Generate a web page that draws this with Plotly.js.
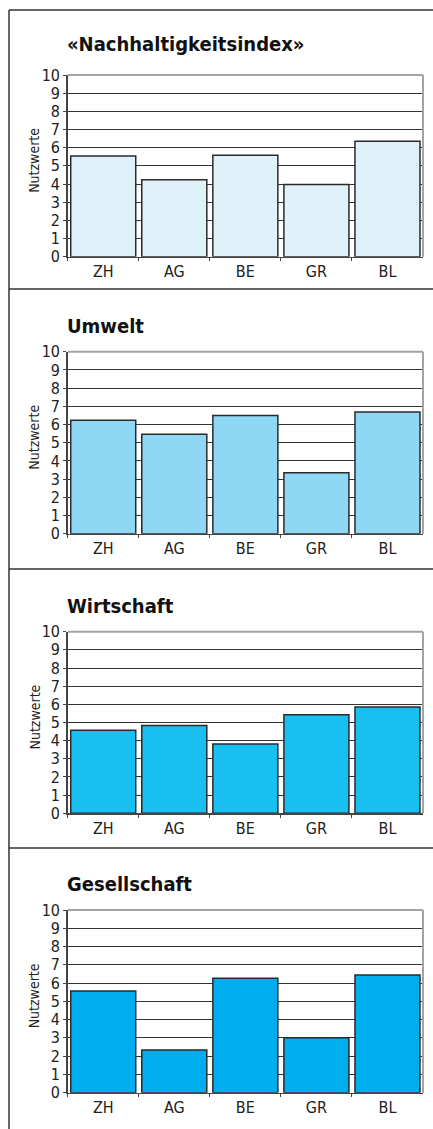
<!DOCTYPE html>
<html>
<head>
<meta charset="utf-8">
<script src="https://cdn.plot.ly/plotly-3.0.1.min.js"></script>
<style>
html,body{margin:0;padding:0;background:#fff;}
#chart{width:433px;height:1129px;}
#chart svg text{font-stretch:condensed !important;}
</style>
</head>
<body>
<div id="chart"></div>
<script>
const categories = ['ZH', 'AG', 'BE', 'GR', 'BL'];
const panelTitles = ['«Nachhaltigkeitsindex»', 'Umwelt', 'Wirtschaft', 'Gesellschaft'];
const nachhaltigkeit = [5.54, 4.24, 5.59, 3.98, 6.35];
const umwelt = [6.23, 5.46, 6.5, 3.35, 6.68];
const wirtschaft = [4.57, 4.84, 3.82, 5.43, 5.85];
const gesellschaft = [5.57, 2.34, 6.26, 3.01, 6.44];
const yTickVals = [0, 1, 2, 3, 4, 5, 6, 7, 8, 9, 10];
const yTitle = 'Nutzwerte';

const series = [nachhaltigkeit, umwelt, wirtschaft, gesellschaft];
const colors = ['#dff2fa', '#8ed7f5', '#17c0f0', '#00adee'];

const W = 433, H = 1129;
const FONT = '"DejaVu Sans Condensed", "DejaVu Sans", sans-serif';
// pixel geometry of each panel
const panelTop = [10, 289, 569, 848];
const plotTop = [75, 351.7, 631.7, 910];
const plotBot = [256.7, 533.7, 813.3, 1092.7];
const titleY = [44, 326, 606, 884];
const plotL = 67.7, plotR = 423;

const px = x => x / W;
const py = y => 1 - y / H;

const data = [];
const layout = {
  width: W, height: H,
  margin: {l: 0, r: 0, t: 0, b: 0},
  paper_bgcolor: '#fff', plot_bgcolor: '#fff',
  showlegend: false,
  bargap: 0.085,
  font: {family: FONT, color: '#222'},
  shapes: [], annotations: []
};

series.forEach((vals, i) => {
  const n = i + 1;
  const sfx = n === 1 ? '' : String(n);
  data.push({
    type: 'bar', x: categories, y: vals,
    xaxis: 'x' + sfx, yaxis: 'y' + sfx,
    marker: {color: colors[i], line: {color: '#2a2a2a', width: 1.5}},
    hoverinfo: 'x+y'
  });
  layout['xaxis' + sfx] = {
    domain: [px(plotL), px(plotR)],
    anchor: 'y' + sfx,
    type: 'category',
    showline: true, linecolor: '#444', linewidth: 1.5,
    ticks: 'outside', ticklen: 3, tickcolor: '#444', tickson: 'boundaries',
    tickfont: {family: FONT, size: 16, color: '#222'},
    showgrid: false, fixedrange: true
  };
  layout['yaxis' + sfx] = {
    domain: [py(plotBot[i]), py(plotTop[i])],
    anchor: 'x' + sfx,
    range: [0, 10],
    tickvals: yTickVals,
    showline: true, linecolor: '#444', linewidth: 1.5,
    ticks: 'outside', ticklen: 3, tickcolor: '#444',
    tickfont: {family: FONT, size: 16, color: '#222'},
    showgrid: true, gridcolor: '#333', gridwidth: 1,
    zeroline: false, fixedrange: true
  };
  // gray top & right plot border
  layout.shapes.push({type: 'line', xref: 'paper', yref: 'paper',
    x0: px(plotL), x1: px(plotR), y0: py(plotTop[i]), y1: py(plotTop[i]),
    line: {color: '#a3a3a3', width: 2}});
  layout.shapes.push({type: 'line', xref: 'paper', yref: 'paper',
    x0: px(plotR), x1: px(plotR), y0: py(plotTop[i]), y1: py(plotBot[i]),
    line: {color: '#a3a3a3', width: 2}});
  // panel separator line
  layout.shapes.push({type: 'line', xref: 'paper', yref: 'paper',
    x0: px(9), x1: 1, y0: py(panelTop[i]), y1: py(panelTop[i]),
    line: {color: '#333', width: 1.5}});
  // title
  layout.annotations.push({xref: 'paper', yref: 'paper', x: px(65), y: py(titleY[i]),
    xanchor: 'left', yanchor: 'middle', showarrow: false,
    text: '<b>' + panelTitles[i] + '</b>',
    font: {family: FONT, size: 20, color: '#111'}});
  // y axis title
  layout.annotations.push({xref: 'paper', yref: 'paper', x: px(34),
    y: py((plotTop[i] + plotBot[i]) / 2 - 5),
    xanchor: 'center', yanchor: 'middle', showarrow: false, textangle: -90,
    text: yTitle, font: {family: FONT, size: 14, color: '#222'}});
});
// outer left border
layout.shapes.push({type: 'line', xref: 'paper', yref: 'paper',
  x0: px(9), x1: px(9), y0: py(10), y1: 0, line: {color: '#333', width: 1.5}});

Plotly.newPlot('chart', data, layout, {displayModeBar: false, staticPlot: true});
</script>
</body>
</html>
